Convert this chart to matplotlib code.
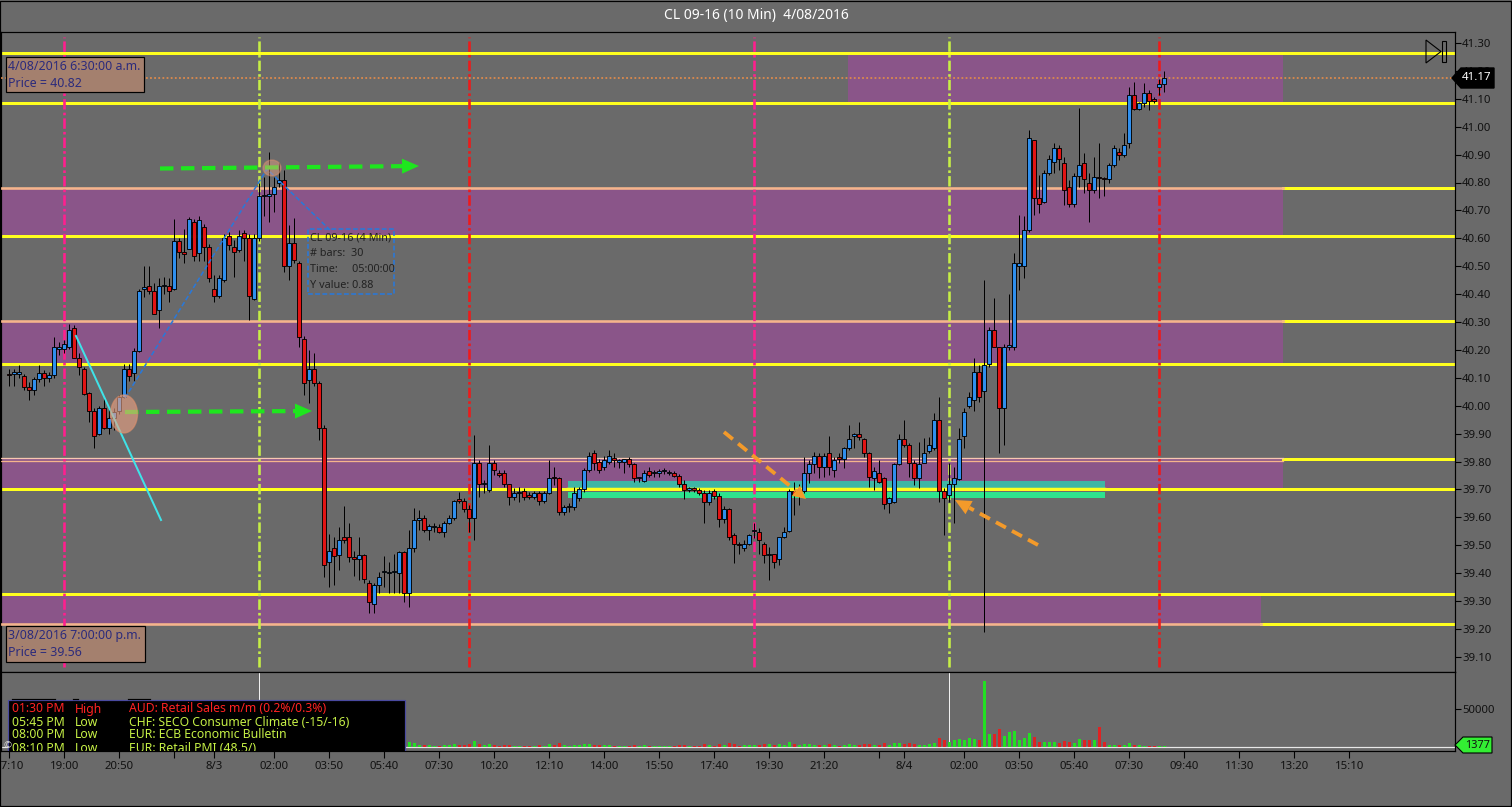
import matplotlib
matplotlib.use("Agg")
import matplotlib.pyplot as plt
from matplotlib.patches import Rectangle, Polygon, Ellipse
import math

# ---------------- data ----------------
opens = [40.115, 40.115, 40.115, 40.107, 40.068, 40.058, 40.095, 40.118, 40.10, 40.11,
         40.205, 40.205, 40.21, 40.28, 40.17, 40.131, 40.047, 39.98, 39.90, 39.99,
         39.92, 39.955, 39.98, 40.03, 40.131, 40.118, 40.197, 40.42, 40.43, 40.41,
         40.343, 40.43, 40.43, 40.42, 40.59, 40.55, 40.56, 40.66, 40.546, 40.642,
         40.57, 40.42, 40.394, 40.45, 40.608, 40.57, 40.558, 40.62, 40.60, 40.383,
         40.60, 40.75, 40.75, 40.76, 40.797, 40.81, 40.50, 40.582, 40.51, 40.24,
         40.092, 40.13, 40.08, 39.919, 39.438, 39.49, 39.465, 39.528, 39.528, 39.457,
         39.45, 39.465, 39.363, 39.29, 39.357, 39.405, 39.40, 39.405, 39.399, 39.477,
         39.327, 39.489, 39.59, 39.596, 39.556, 39.566, 39.566, 39.548, 39.578, 39.596,
         39.667, 39.658, 39.628, 39.596, 39.796, 39.718, 39.698, 39.796, 39.757, 39.757,
         39.718, 39.671, 39.686, 39.695, 39.68, 39.671, 39.688, 39.658, 39.688, 39.745,
         39.74, 39.62, 39.638, 39.638, 39.67, 39.70, 39.77, 39.83, 39.80, 39.781,
         39.80, 39.812, 39.80, 39.80, 39.808, 39.79, 39.74, 39.73, 39.767, 39.76,
         39.758, 39.767, 39.76, 39.757, 39.748, 39.718, 39.698, 39.706, 39.698, 39.688,
         39.656, 39.694, 39.676, 39.593, 39.628, 39.536, 39.504, 39.489, 39.506, 39.552,
         39.548, 39.506, 39.465, 39.467, 39.45, 39.528, 39.55, 39.695, 39.68, 39.695,
         39.757, 39.79, 39.818, 39.78, 39.83, 39.77, 39.817, 39.808, 39.847, 39.89,
         39.898, 39.879, 39.829, 39.74, 39.757, 39.74, 39.65, 39.656, 39.79, 39.879,
         39.859, 39.796, 39.74, 39.796, 39.839, 39.847, 39.949, 39.695, 39.68, 39.72,
         39.736, 39.891, 40.0, 40.02, 40.122, 40.051, 40.149, 40.27, 40.21, 39.99,
         40.21, 40.21, 40.50, 40.50, 40.63, 40.952, 40.743, 40.731, 40.833, 40.875,
         40.922, 40.871, 40.783, 40.723, 40.823, 40.871, 40.799, 40.773, 40.821, 40.815,
         40.811, 40.863, 40.91, 40.90, 40.94, 41.114, 41.062, 41.084, 41.122, 41.10,
         41.143, 41.152]
highs = [40.13, 40.13, 40.145, 40.115, 40.086, 40.104, 40.145, 40.128, 40.12, 40.247,
         40.23, 40.235, 40.293, 40.29, 40.19, 40.14, 40.05, 39.99, 40.00, 40.026,
         39.99, 39.99, 40.04, 40.15, 40.15, 40.206, 40.42, 40.50, 40.50, 40.44,
         40.456, 40.46, 40.456, 40.67, 40.60, 40.635, 40.675, 40.67, 40.68, 40.65,
         40.58, 40.47, 40.47, 40.617, 40.624, 40.594, 40.63, 40.63, 40.617, 40.617,
         40.797, 40.82, 40.91, 40.82, 40.869, 40.845, 40.647, 40.672, 40.52, 40.25,
         40.20, 40.19, 40.09, 39.93, 39.54, 39.53, 39.567, 39.64, 39.58, 39.48,
         39.53, 39.47, 39.375, 39.365, 39.405, 39.46, 39.44, 39.47, 39.48, 39.48,
         39.555, 39.632, 39.625, 39.61, 39.575, 39.58, 39.575, 39.585, 39.608, 39.662,
         39.69, 39.668, 39.643, 39.895, 39.805, 39.734, 39.859, 39.805, 39.768, 39.768,
         39.72, 39.704, 39.71, 39.704, 39.69, 39.695, 39.695, 39.695, 39.805, 39.78,
         39.745, 39.644, 39.65, 39.71, 39.71, 39.775, 39.835, 39.84, 39.81, 39.82,
         39.84, 39.829, 39.81, 39.81, 39.815, 39.795, 39.746, 39.77, 39.782, 39.768,
         39.772, 39.775, 39.77, 39.765, 39.755, 39.734, 39.71, 39.71, 39.705, 39.698,
         39.698, 39.70, 39.686, 39.64, 39.632, 39.542, 39.512, 39.52, 39.54, 39.578,
         39.56, 39.51, 39.495, 39.47, 39.53, 39.566, 39.70, 39.728, 39.72, 39.817,
         39.805, 39.835, 39.83, 39.83, 39.891, 39.817, 39.829, 39.853, 39.93, 39.901,
         39.943, 39.883, 39.835, 39.781, 39.805, 39.746, 39.674, 39.796, 39.898, 39.949,
         39.866, 39.805, 39.871, 39.883, 39.889, 39.973, 40.032, 39.704, 39.793, 39.78,
         39.92, 39.99, 40.05, 40.17, 40.146, 40.45, 40.283, 40.385, 40.21, 40.22,
         40.40, 40.546, 40.683, 40.68, 40.988, 40.952, 40.827, 40.845, 40.899, 40.94,
         40.934, 40.893, 40.81, 40.833, 41.066, 40.905, 40.833, 40.893, 40.94, 40.82,
         40.869, 40.934, 40.922, 40.976, 41.143, 41.16, 41.09, 41.155, 41.131, 41.105,
         41.17, 41.20]
lows = [40.07, 40.07, 40.10, 40.056, 40.02, 40.04, 40.085, 40.07, 40.085, 40.10,
        40.18, 40.19, 40.205, 40.17, 40.11, 40.04, 39.94, 39.85, 39.895, 39.915,
        39.90, 39.913, 39.97, 40.026, 40.09, 40.09, 40.193, 40.39, 40.40, 40.33,
        40.28, 40.40, 40.373, 40.415, 40.53, 40.51, 40.56, 40.52, 40.52, 40.52,
        40.445, 40.37, 40.385, 40.445, 40.558, 40.462, 40.55, 40.52, 40.307, 40.38,
        40.59, 40.68, 40.66, 40.695, 40.785, 40.48, 40.45, 40.51, 40.21, 40.04,
        40.008, 40.07, 39.877, 39.387, 39.35, 39.357, 39.41, 39.507, 39.44, 39.39,
        39.375, 39.363, 39.256, 39.256, 39.33, 39.35, 39.33, 39.33, 39.33, 39.297,
        39.28, 39.477, 39.555, 39.548, 39.518, 39.548, 39.542, 39.53, 39.575, 39.59,
        39.65, 39.62, 39.548, 39.518, 39.674, 39.686, 39.692, 39.75, 39.745, 39.71,
        39.644, 39.662, 39.656, 39.662, 39.665, 39.665, 39.644, 39.65, 39.685, 39.715,
        39.608, 39.608, 39.62, 39.625, 39.66, 39.69, 39.764, 39.77, 39.76, 39.77,
        39.79, 39.782, 39.776, 39.758, 39.78, 39.728, 39.728, 39.728, 39.746, 39.745,
        39.745, 39.755, 39.75, 39.745, 39.71, 39.665, 39.69, 39.69, 39.68, 39.578,
        39.645, 39.665, 39.566, 39.58, 39.518, 39.435, 39.47, 39.48, 39.50, 39.525,
        39.47, 39.435, 39.375, 39.417, 39.43, 39.525, 39.547, 39.61, 39.645, 39.686,
        39.722, 39.758, 39.74, 39.746, 39.752, 39.746, 39.794, 39.775, 39.84, 39.847,
        39.877, 39.817, 39.71, 39.698, 39.722, 39.628, 39.617, 39.65, 39.787, 39.853,
        39.746, 39.716, 39.704, 39.793, 39.829, 39.841, 39.656, 39.536, 39.656, 39.58,
        39.734, 39.847, 39.991, 39.98, 40.015, 39.19, 40.14, 40.21, 39.83, 39.86,
        40.20, 40.20, 40.415, 40.457, 40.624, 40.683, 40.69, 40.725, 40.827, 40.833,
        40.845, 40.72, 40.713, 40.713, 40.785, 40.761, 40.66, 40.761, 40.743, 40.75,
        40.80, 40.857, 40.88, 40.893, 40.922, 41.06, 41.06, 41.072, 41.06, 41.085,
        41.114, 41.125]
closes = [40.11, 40.115, 40.115, 40.068, 40.058, 40.095, 40.118, 40.098, 40.11, 40.209,
          40.21, 40.22, 40.27, 40.17, 40.14, 40.042, 39.98, 39.89, 39.99, 39.92,
          39.955, 39.978, 40.03, 40.131, 40.105, 40.197, 40.41, 40.42, 40.41, 40.33,
          40.43, 40.43, 40.41, 40.59, 40.55, 40.545, 40.67, 40.535, 40.666, 40.57,
          40.456, 40.394, 40.459, 40.60, 40.576, 40.55, 40.608, 40.60, 40.394, 40.60,
          40.75, 40.755, 40.76, 40.783, 40.81, 40.50, 40.582, 40.522, 40.247, 40.08,
          40.13, 40.08, 39.919, 39.43, 39.478, 39.46, 39.52, 39.52, 39.457, 39.45,
          39.465, 39.378, 39.298, 39.357, 39.387, 39.405, 39.40, 39.405, 39.477, 39.327,
          39.489, 39.59, 39.596, 39.556, 39.568, 39.566, 39.548, 39.578, 39.596, 39.658,
          39.658, 39.628, 39.596, 39.796, 39.718, 39.718, 39.796, 39.77, 39.751, 39.718,
          39.671, 39.688, 39.686, 39.671, 39.671, 39.688, 39.658, 39.688, 39.74, 39.74,
          39.62, 39.638, 39.64, 39.688, 39.70, 39.77, 39.82, 39.796, 39.77, 39.806,
          39.818, 39.806, 39.80, 39.808, 39.79, 39.74, 39.74, 39.758, 39.752, 39.76,
          39.767, 39.767, 39.76, 39.748, 39.718, 39.698, 39.706, 39.698, 39.688, 39.656,
          39.688, 39.676, 39.593, 39.628, 39.528, 39.506, 39.499, 39.506, 39.536, 39.554,
          39.519, 39.465, 39.465, 39.438, 39.528, 39.548, 39.695, 39.68, 39.69, 39.757,
          39.79, 39.818, 39.78, 39.818, 39.78, 39.805, 39.808, 39.847, 39.879, 39.897,
          39.889, 39.829, 39.746, 39.767, 39.728, 39.648, 39.668, 39.79, 39.879, 39.859,
          39.796, 39.74, 39.79, 39.829, 39.859, 39.949, 39.695, 39.668, 39.72, 39.74,
          39.879, 39.979, 40.032, 40.122, 40.03, 40.146, 40.27, 40.21, 39.99, 40.21,
          40.218, 40.51, 40.51, 40.63, 40.96, 40.743, 40.723, 40.833, 40.883, 40.922,
          40.883, 40.773, 40.723, 40.823, 40.861, 40.811, 40.773, 40.821, 40.815, 40.811,
          40.863, 40.922, 40.90, 40.934, 41.114, 41.062, 41.084, 41.122, 41.093, 41.093,
          41.152, 41.176]
volumes = [5200, 3100, 2800, 4600, 3900, 4100, 3600, 3300, 2900, 7800,
           4200, 3800, 6100, 7200, 4800, 6900, 8800, 9700, 7600, 6200,
           4500, 3900, 4700, 9100, 4400, 6300, 14800, 8200, 6100, 7700,
           8300, 4100, 4600, 13900, 6200, 5800, 8400, 8100, 7300, 5900,
           7200, 6800, 5600, 9400, 4800, 5200, 4300, 4100, 11200, 9800,
           12600, 7400, 9100, 6200, 5100, 16800, 9300, 8700, 15200, 13400,
           9100, 6800, 9900, 24800, 9800, 6100, 5900, 6300, 5200, 3900,
           4300, 5700, 7800, 6100, 3700, 3200, 2900, 3100, 5400, 6900,
           6200, 5400, 2300, 2600, 2100, 1500, 1800, 2200, 2400, 3300,
           2300, 2500, 3400, 7900, 4300, 2100, 4100, 2200, 1600, 2400,
           2900, 1800, 1300, 1700, 1200, 1400, 2000, 1900, 3800, 2100,
           4800, 2100, 1500, 2700, 2300, 3600, 4100, 3100, 2400, 2200,
           2300, 1700, 1300, 1500, 1900, 3200, 1400, 2000, 1700, 1300,
           1400, 1200, 1300, 1500, 2400, 2600, 1400, 1300, 1500, 3900,
           2800, 1900, 4200, 2600, 4700, 4100, 1800, 2000, 2300, 2500,
           2900, 3300, 3800, 2800, 3900, 2700, 6800, 3600, 2300, 4400,
           3300, 3100, 2900, 2700, 3900, 2800, 1900, 2600, 3800, 2400,
           2600, 3300, 4400, 2900, 2800, 4900, 2600, 5600, 4900, 4386,
           5700, 3500, 3070, 2190, 3500, 5260, 11840, 9650, 6580, 8770,
           10090, 9650, 11840, 10960, 9650, 86840, 16670, 17540, 24120, 14030,
           19740, 21050, 8770, 12280, 18420, 13160, 6580, 6580, 6580, 6580,
           5260, 7460, 6580, 5260, 10960, 8770, 8770, 8770, 26300, 6580,
           3070, 2190, 2190, 3070, 5260, 3070, 2190, 1750, 1750, 1500,
           1450, 1377]

price_ticks = [39.10, 39.20, 39.30, 39.40, 39.50, 39.60, 39.70, 39.80, 39.90, 40.00,
               40.10, 40.20, 40.30, 40.40, 40.50, 40.60, 40.70, 40.80, 40.90, 41.00,
               41.10, 41.20, 41.30]
time_tick_bars = [0, 11, 22, 33, 41, 53, 64, 75, 86, 97, 108, 119, 130, 141, 152, 163,
                  174, 179, 191, 202, 213, 224, 235, 246, 257, 268]
time_labels = ['17:10', '19:00', '20:50', '', '8/3', '02:00', '03:50', '05:40', '07:30',
               '10:20', '12:10', '14:00', '15:50', '17:40', '19:30', '21:20', '', '8/4',
               '02:00', '03:50', '05:40', '07:30', '09:40', '11:30', '13:20', '15:10']
zone_tops = [41.263, 40.78, 40.305, 39.81, 39.326]
zone_bottoms = [41.085, 40.61, 40.15, 39.70, 39.218]
event_bars = [11, 50, 92, 149, 188, 230]
event_colors = ['#ff1f8e', '#c6ee46', '#ee1a1a', '#ff1f8e', '#c6ee46', '#ee1a1a']
last_price = 41.17
last_volume = 1377
calendar_rows = [("01:30 PM", "High", "AUD: Retail Sales m/m (0.2%/0.3%)"),
                 ("05:45 PM", "Low", "CHF: SECO Consumer Climate (-15/-16)"),
                 ("08:00 PM", "Low", "EUR: ECB Economic Bulletin"),
                 ("08:10 PM", "Low", "EUR: Retail PMI (48.5/)")]

# ---------------- layout helpers ----------------
plt.rcParams['font.family'] = ['Noto Sans', 'DejaVu Sans']
W, H = 1512, 807
BG = '#6a6a6a'
PX = 0.72  # points per pixel at 100 dpi


def fx(px):
    return px / W


def fy(py):
    return 1 - py / H


def X(px):
    return (px - 9.3) / 5.0


def P(py):
    return 41.30 - (py - 43) / 279.0


def VY(py):
    return (747 - py) * 50000 / 38.0


fig = plt.figure(figsize=(W / 100, H / 100), dpi=100, facecolor=BG)
ax = fig.add_axes([fx(1), fy(672), fx(1455) - fx(1), fy(32) - fy(672)], facecolor=BG)
axv = fig.add_axes([fx(1), fy(751), fx(1455) - fx(1), fy(672) - fy(751)], facecolor=BG)
ax.set_xlim(X(1), X(1455))
ax.set_ylim(P(672), P(32))
axv.set_xlim(X(1), X(1455))
axv.set_ylim(VY(751), VY(672))

for a in (ax, axv):
    for s in a.spines.values():
        s.set_color('black')
        s.set_linewidth(1.2 * PX)

# ---------------- zones and levels ----------------
YEL = '#ffff1e'
salmon = '#f5b48c'
zone_px = [(848, 1283), (1, 1283), (1, 1283), (1, 1283), (1, 1261)]
for (x0, x1), top, bot in zip(zone_px, zone_tops, zone_bottoms):
    ax.add_patch(Rectangle((X(x0), bot), X(x1) - X(x0), top - bot,
                           facecolor='#8a5589', edgecolor='none', zorder=1))
# yellow level lines (full width), salmon borders inside zones
for lv in (zone_tops[0], zone_bottoms[0], zone_bottoms[1], zone_bottoms[2], zone_bottoms[3],
           zone_tops[4]):
    ax.axhline(lv, color=YEL, lw=3 * PX, zorder=2)
for lv in (zone_tops[1], zone_tops[2], zone_tops[3]):
    ax.plot([X(1283), X(1455)], [lv, lv], color=YEL, lw=3 * PX, zorder=2)
    ax.plot([X(1283), X(1455)], [lv, lv], color=YEL, lw=3 * PX, zorder=2)
ax.plot([X(1261), X(1455)], [zone_bottoms[4], zone_bottoms[4]], color=YEL, lw=3 * PX, zorder=2)
ax.plot([X(1), X(1283)], [zone_tops[1], zone_tops[1]], color=salmon, lw=2.6 * PX, zorder=3)
ax.plot([X(1), X(1283)], [zone_tops[2], zone_tops[2]], color=salmon, lw=2.6 * PX, zorder=3)
ax.plot([X(1), X(1283)], [P(458.3), P(458.3)], color='#f8c8b0', lw=1.3 * PX, zorder=3)
ax.plot([X(1), X(1283)], [P(461.3), P(461.3)], color=salmon, lw=1.3 * PX, zorder=3)
ax.plot([X(1), X(1261)], [zone_bottoms[4], zone_bottoms[4]], color=salmon, lw=2.6 * PX, zorder=3)

# last price dotted line
ax.axhline(last_price + 0.005, color='#dd8a4c', lw=1.8 * PX, ls=(0, (1, 1.3)), zorder=3)

# teal / green highlight
ax.add_patch(Rectangle((X(568), P(489)), X(1105) - X(568), P(481) - P(489),
                       facecolor='#3fb6a4', edgecolor='none', zorder=3))
ax.add_patch(Rectangle((X(568), P(498)), X(1105) - X(568), P(491.5) - P(498),
                       facecolor='#2ee38e', edgecolor='none', zorder=3))
ax.plot([X(568), X(1105)], [39.70, 39.70], color=YEL, lw=2.5 * PX, zorder=3.5)

# event vertical lines
for b, c in zip(event_bars, event_colors):
    ax.plot([b, b], [P(667), P(37)], color=c, lw=2.6 * PX,
            ls=(0, (4, 1.2, 1, 1.2)), zorder=4)

# ---------------- candles ----------------
up_c, dn_c = '#2f8fee', '#e21414'
for i, (o, h, l, c) in enumerate(zip(opens, highs, lows, closes)):
    ax.plot([i, i], [l, h], color='black', lw=1.0 * PX, zorder=5, solid_capstyle='butt')
    lo, hi = min(o, c), max(o, c)
    hgt = max(hi - lo, 0.004)
    ax.add_patch(Rectangle((i - 0.4, lo), 0.8, hgt,
                           facecolor=up_c if c >= o else dn_c,
                           edgecolor='black', lw=0.9 * PX, zorder=6))


# ---------------- annotations ----------------
def dashed_arrow(x0, y0, x1, y1, color, lw, head_len, head_w, dash):
    d = math.hypot(x1 - x0, y1 - y0)
    ux, uy = (x1 - x0) / d, (y1 - y0) / d
    bx, by = x1 - ux * head_len, y1 - uy * head_len
    ax.plot([X(x0), X(bx)], [P(y0), P(by)], color=color, lw=lw * PX,
            ls=(0, dash), zorder=8, dash_capstyle='butt')
    nx, ny = -uy, ux
    pts = [(X(x1), P(y1)),
           (X(bx + nx * head_w / 2), P(by + ny * head_w / 2)),
           (X(bx - nx * head_w / 2), P(by - ny * head_w / 2))]
    ax.add_patch(Polygon(pts, closed=True, facecolor=color, edgecolor='none', zorder=8))


dashed_arrow(160, 168.5, 419, 166, '#1ee61e', 4.2, 17, 15, (3.2, 1.8))
dashed_arrow(125, 412, 312, 411, '#1ee61e', 4.2, 17, 15, (3.2, 1.8))
dashed_arrow(724, 432, 806, 499, '#f39a2a', 3.8, 13, 13, (3.0, 1.8))
dashed_arrow(1038, 545, 955, 500, '#f39a2a', 3.8, 16, 15, (3.0, 1.8))

# cyan trend line
ax.plot([X(76), X(161)], [P(336), P(520)], color='#3fe3e8', lw=2 * PX, zorder=8)

# blue dashed measure lines and box
ax.plot([X(125), X(267), X(330)], [P(398), P(169), P(230)], color='#2a78d8',
        lw=1.6 * PX, ls=(0, (3, 1.5)), zorder=7)
ax.add_patch(Rectangle((X(307.5), P(294)), X(394.5) - X(307.5), P(229.5) - P(294),
                       facecolor='none', edgecolor='#2a78d8', lw=1.6 * PX,
                       ls=(0, (3, 1.5)), zorder=7))
info = ["CL 09-16 (4 Min)", "# bars:  30", "Time:     05:00:00", "Y value: 0.88"]
for k, t in enumerate(info):
    ax.text(X(310), P(238 + 16 * k), t, fontsize=7.8, color='#222222',
            va='center', ha='left', zorder=7)

# ellipses
ax.add_patch(Ellipse((X(124), P(414)), 27 / 5, 38 / 279, facecolor='#f0a484',
                     edgecolor='#e0906c', alpha=0.6, lw=1, zorder=9))
ax.add_patch(Ellipse((X(272), P(168)), 18 / 5, 16 / 279, facecolor='#f0a484',
                     edgecolor='#e0906c', alpha=0.45, lw=1, zorder=9))

# info boxes
for (bx0, by0, bx1, by1), lines in [((6, 57, 144, 92), ["4/08/2016 6:30:00 a.m.", "Price = 40.82"]),
                                     ((6, 626, 145, 662), ["3/08/2016 7:00:00 p.m.", "Price = 39.56"])]:
    ax.add_patch(Rectangle((X(bx0), P(by1)), X(bx1) - X(bx0), P(by0) - P(by1),
                           facecolor='#a4806e', edgecolor='black', lw=1.2 * PX, zorder=10))
    ax.text(X(bx0 + 2), P(by0 + 9.5), lines[0], fontsize=8.9, color='#2c2b7c',
            va='center', ha='left', zorder=11)
    ax.text(X(bx0 + 2), P(by0 + 26.5), lines[1], fontsize=8.9, color='#2c2b7c',
            va='center', ha='left', zorder=11)

# go-to-end icon
ax.add_patch(Polygon([(X(1426), P(40)), (X(1441), P(51.5)), (X(1426), P(63))], closed=True,
                     facecolor='none', edgecolor='black', lw=1.1 * PX, zorder=10))
ax.add_patch(Rectangle((X(1442), P(62)), X(1446) - X(1442), P(41) - P(62),
                       facecolor='none', edgecolor='black', lw=1.1 * PX, zorder=10))

# price axis
ax.yaxis.tick_right()
ax.set_yticks(price_ticks)
ax.set_yticklabels([f"{v:.2f}" for v in price_ticks])
ax.tick_params(axis='y', direction='out', length=4, width=0.8, color='black',
               labelcolor='#111111', labelsize=8.2, pad=1)
ax.set_xticks([])

# price tag
fig.patches.append(Polygon([(fx(1452), fy(78)), (fx(1461), fy(68)), (fx(1494), fy(68)),
                            (fx(1494), fy(88)), (fx(1461), fy(88))], closed=True,
                           transform=fig.transFigure, facecolor='black', edgecolor='black',
                           zorder=20))
fig.text(fx(1477), fy(78), f"{last_price:.2f}", color='white', fontsize=8.3,
         ha='center', va='center', zorder=21, fontweight='bold')

# ---------------- volume ----------------
for i, (o, c, v) in enumerate(zip(opens, closes, volumes)):
    axv.bar(i, v, width=0.5, color='#22e022' if c >= o else '#e02222',
            edgecolor='none', zorder=3)
axv.axhline(0, color='#e8e8e8', lw=1.2 * PX, zorder=2)
for b in (50, 188):
    axv.plot([b, b], [0, VY(672)], color='#f0f0f0', lw=1 * PX, zorder=2)
axv.yaxis.tick_right()
axv.set_yticks([50000])
axv.set_yticklabels(['50000'])
axv.tick_params(axis='y', direction='out', length=4, width=0.8, color='black',
                labelcolor='#111111', labelsize=8.2, pad=1)
axv.set_xticks(time_tick_bars)
axv.set_xticklabels(time_labels)
axv.tick_params(axis='x', direction='out', length=5, width=0.8, color='black',
                labelcolor='#111111', labelsize=8.2, pad=2)

fig.patches.append(Polygon([(fx(1455), fy(745)), (fx(1463), fy(737)), (fx(1492), fy(737)),
                            (fx(1492), fy(753)), (fx(1463), fy(753))], closed=True,
                           transform=fig.transFigure, facecolor='#33ee33', edgecolor='black',
                           lw=0.8, zorder=20))
fig.text(fx(1477.5), fy(745), str(last_volume), color='#111111', fontsize=7.8,
         ha='center', va='center', zorder=21)

# economic calendar overlay
axv.add_patch(Rectangle((fx(8), fy(752)), fx(405) - fx(8), fy(700) - fy(752),
                        transform=fig.transFigure, facecolor='black',
                        edgecolor='#4a4aa0', lw=1.2 * PX, zorder=10))
for sx0, sx1 in [(12, 55), (73, 78), (128, 150)]:
    axv.plot([fx(sx0), fx(sx1)], [fy(698.5), fy(698.5)], transform=fig.transFigure,
             color='black', lw=1.2 * PX, zorder=10)
for k, (tm, imp, ev) in enumerate(calendar_rows):
    col = '#ff2222' if imp == 'High' else '#c6f046'
    yy = fy(709 + 13 * k)
    for xx, t in [(12, tm), (75, imp), (129, ev)]:
        axv.text(fx(xx), yy, t, transform=fig.transFigure, color=col, fontsize=8.8,
                 va='center', ha='left', zorder=11, clip_on=True)
axv.text(fx(3), fy(746), "©", transform=fig.transFigure, color='#dddddd', fontsize=7,
         va='center', ha='left', zorder=11, clip_on=True)

# title
fig.text(fx(756), fy(15), "CL 09-16 (10 Min)  4/08/2016", color='white', fontsize=10,
         ha='center', va='center')

# outer frame
fig.patches.append(Rectangle((0, fy(806)), fx(1511), fy(1) - fy(806), transform=fig.transFigure,
                             facecolor='none', edgecolor='black', lw=1.2 * PX, zorder=0))

fig.savefig("out.png", dpi=100, facecolor=BG)
